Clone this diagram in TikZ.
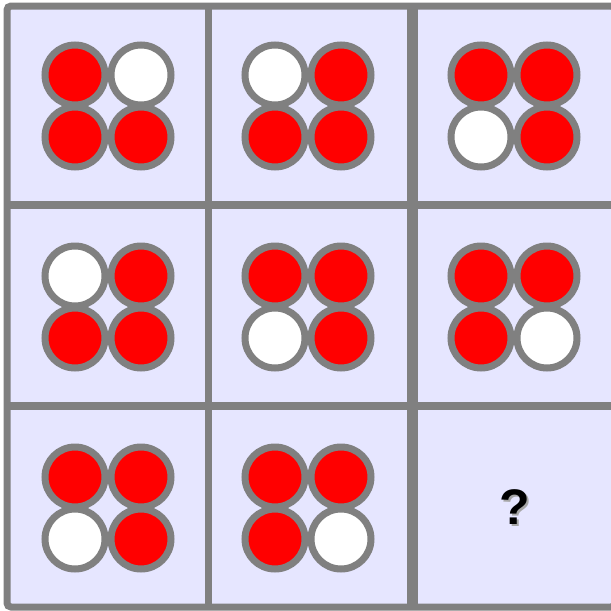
\documentclass[tikz,border=0pt]{standalone}
\usepackage{fontspec}
\setmainfont{Liberation Sans}
\usetikzlibrary{positioning}
\definecolor{panel}{HTML}{E6E6FF}
\definecolor{rim}{HTML}{808080}

\begin{document}
\begin{tikzpicture}[
    x=1pt, y=-1pt,
    frame/.style={draw=rim, line width=7pt, rounded corners=4pt, fill=panel},
    divider/.style={draw=rim, line width=#1},
    dot/.style={circle, draw=rim, line width=7pt, minimum size=60pt, inner sep=0pt},
    on/.style={dot, fill=red},
    off/.style={dot, fill=white},
    query/.style={font=\bfseries\fontsize{50}{50}\selectfont, inner sep=0pt}
]

% 1. Page and outer frame (right edge runs off the page)
\useasboundingbox (0,0) rectangle (611,611);
\clip (0,0) rectangle (611,611);
\path[frame] (7,6) rectangle (615,607);

% 2. Grid lines
\draw[divider=7pt] (208,6) -- (208,607);
\draw[divider=11pt] (412,6) -- (412,607);
\draw[divider=8pt] (7,205) -- (615,205);
\draw[divider=8pt] (7,406) -- (615,406);

% 3. Four dots per cell: top left, top right, bottom left, bottom right
\foreach \id/\cx/\cy/\tl/\tr/\bl/\br in {
    11/108/106/on/off/on/on, 12/308/106/off/on/on/on, 13/514/106/on/on/off/on,
    21/108/307/off/on/on/on, 22/308/307/on/on/off/on, 23/514/307/on/on/on/off,
    31/108/508/on/on/off/on, 32/308/508/on/on/on/off}{
    \node[\tl] (c\id-tl) at (\cx-33,\cy-31) {};
    \node[\tr] (c\id-tr) at (\cx+33,\cy-31) {};
    \node[\bl] (c\id-bl) at (\cx-33,\cy+31) {};
    \node[\br] (c\id-br) at (\cx+33,\cy+31) {};
}

% 4. Missing cell
\node[query, text=rim!70] (ask-shadow) at (517,509) {?};
\node[query] (ask) at (515,507) {?};

\end{tikzpicture}
\end{document}
